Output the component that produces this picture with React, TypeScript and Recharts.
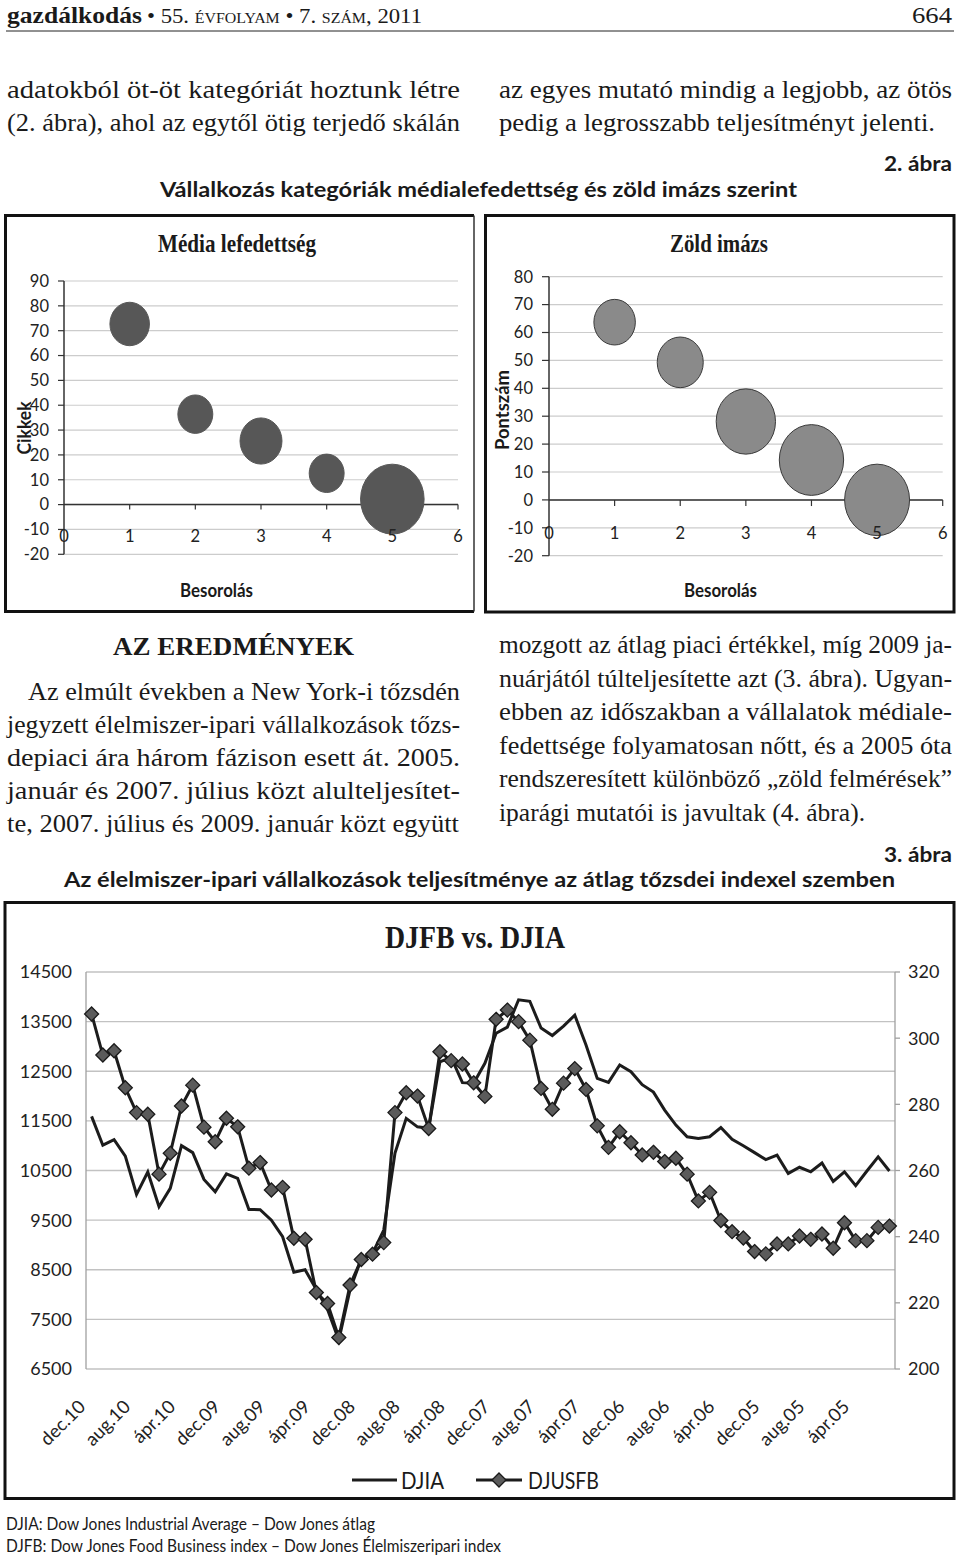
import React from 'react';
import {
  ScatterChart, Scatter, XAxis, YAxis, ZAxis, CartesianGrid, ReferenceLine,
  LineChart, Line, Legend,
} from 'recharts';

const SERIF = '"Liberation Serif", "DejaVu Serif", serif';
const SANS = 'Lato, "Open Sans", "DejaVu Sans", sans-serif';
const INK = '#1a1a1a';

// ---------- 2. ábra : bubble charts ----------
const ratingCategories = [1, 2, 3, 4, 5];
const ratingTicks = [0, 1, 2, 3, 4, 5, 6];
const mediaArticles = [72.7, 36.4, 25.6, 12.6, 2.2];
const mediaBubbleSize = [390, 305, 440, 305, 1010];
const mediaYTicks = [-20, -10, 0, 10, 20, 30, 40, 50, 60, 70, 80, 90];
const greenScore = [63.7, 49.3, 28.1, 14.3, 0];
const greenBubbleSize = [430, 530, 880, 1035, 1055];
const greenYTicks = [-20, -10, 0, 10, 20, 30, 40, 50, 60, 70, 80];

// ---------- 3. ábra : DJIA vs DJUSFB ----------
const months = [
  'dec.10', 'nov.10', 'okt.10', 'szept.10', 'aug.10', 'júl.10', 'jún.10', 'máj.10', 'ápr.10', 'márc.10', 'febr.10', 'jan.10',
  'dec.09', 'nov.09', 'okt.09', 'szept.09', 'aug.09', 'júl.09', 'jún.09', 'máj.09', 'ápr.09', 'márc.09', 'febr.09', 'jan.09',
  'dec.08', 'nov.08', 'okt.08', 'szept.08', 'aug.08', 'júl.08', 'jún.08', 'máj.08', 'ápr.08', 'márc.08', 'febr.08', 'jan.08',
  'dec.07', 'nov.07', 'okt.07', 'szept.07', 'aug.07', 'júl.07', 'jún.07', 'máj.07', 'ápr.07', 'márc.07', 'febr.07', 'jan.07',
  'dec.06', 'nov.06', 'okt.06', 'szept.06', 'aug.06', 'júl.06', 'jún.06', 'máj.06', 'ápr.06', 'márc.06', 'febr.06', 'jan.06',
  'dec.05', 'nov.05', 'okt.05', 'szept.05', 'aug.05', 'júl.05', 'jún.05', 'máj.05', 'ápr.05', 'márc.05', 'febr.05', 'jan.05',
];
const djia = [
  11590, 11010, 11120, 10790, 10020, 10470, 9770, 10140, 11000, 10860, 10320, 10070,
  10430, 10340, 9715, 9710, 9500, 9165, 8450, 8500, 8100, 7700, 7080, 8100,
  8720, 8830, 9300, 10850, 11550, 11380, 11350, 12690, 12780, 12270, 12260, 12660,
  13265, 13390, 13940, 13910, 13370, 13220, 13410, 13630, 13030, 12355, 12275, 12625,
  12490, 12230, 12080, 11718, 11415, 11180, 11145, 11180, 11365, 11127, 11000, 10860,
  10720, 10810, 10441, 10565, 10474, 10650, 10280, 10474, 10195, 10490, 10776, 10490,
];
const djusfb = [
  307.3, 294.9, 296.2, 285.0, 277.5, 277.0, 258.9, 265.2, 279.5, 285.8, 273.1, 268.7,
  275.8, 273.2, 260.7, 262.4, 254.1, 254.9, 239.5, 239.2, 223.1, 219.8, 209.5, 225.4,
  233.1, 234.7, 238.2, 277.5, 283.5, 282.5, 272.7, 295.9, 293.2, 292.2, 286.5, 282.4,
  305.7, 308.5, 305.0, 299.4, 284.8, 278.5, 286.4, 290.8, 284.5, 273.5, 267.0, 271.7,
  268.4, 264.7, 265.5, 262.7, 263.7, 258.9, 250.8, 253.4, 244.9, 241.5, 239.6, 235.5,
  234.8, 237.8, 237.8, 240.2, 239.2, 240.8, 236.5, 244.2, 238.8, 238.8, 242.8, 243.2,
];
const djiaTicks = [6500, 7500, 8500, 9500, 10500, 11500, 12500, 13500, 14500];
const djusfbTicks = [200, 220, 240, 260, 280, 300, 320];
const seriesNames = ['DJIA', 'DJUSFB'];

const mediaData = ratingCategories.map((x, i) => ({ x, y: mediaArticles[i], z: mediaBubbleSize[i] }));
const greenData = ratingCategories.map((x, i) => ({ x, y: greenScore[i], z: greenBubbleSize[i] }));
const lineData = months.map((m, i) => ({ m, djia: djia[i], djusfb: djusfb[i] }));

// ---------- page text helper ----------
type PTProps = {
  x: number; y: number; len?: number; size: number; bold?: boolean; family?: string;
  anchor?: 'start' | 'middle' | 'end'; rot?: number; sc?: boolean; children: string;
};
function PT({ x, y, len, size, bold, family = SERIF, anchor = 'start', rot, sc, children }: PTProps) {
  return (
    <text
      x={x}
      y={rot ? y + size * 0.34 : y}
      fontSize={size}
      fontFamily={family}
      fontWeight={bold ? 700 : 400}
      textAnchor={anchor}
      textLength={len}
      lengthAdjust={len ? 'spacingAndGlyphs' : undefined}
      transform={rot ? `rotate(${rot} ${x} ${y})` : undefined}
      fill={INK}
      style={sc ? { fontVariant: 'small-caps' } : undefined}
    >
      {children}
    </text>
  );
}

function PageText() {
  const B = 24.5; // body size
  return (
    <svg width={960} height={1560} style={{ position: 'absolute', left: 0, top: 0 }}>
      {/* header */}
      <PT x={7} y={23} len={135} size={24} bold>gazdálkodás</PT>
      <PT x={147} y={23} len={275} size={20} sc>• 55. évfolyam • 7. szám, 2011</PT>
      <PT x={912} y={23} len={40} size={23}>664</PT>
      <line x1={6} x2={954} y1={31} y2={31} stroke="#222" strokeWidth={1} />

      {/* top paragraph */}
      <PT x={7} y={98} len={453} size={B}>adatokból öt-öt kategóriát hoztunk létre</PT>
      <PT x={7} y={131} len={453} size={B}>(2. ábra), ahol az egytől ötig terjedő skálán</PT>
      <PT x={499} y={98} len={453} size={B}>az egyes mutató mindig a legjobb, az ötös</PT>
      <PT x={499} y={131} len={436} size={B}>pedig a legrosszabb teljesítményt jelenti.</PT>

      <PT x={884} y={171} len={68} size={20} bold family={SANS}>2. ábra</PT>
      <PT x={160} y={197} len={637} size={21} bold family={SANS}>Vállalkozás kategóriák médialefedettség és zöld imázs szerint</PT>

      {/* bubble chart frames */}
      <path d="M474,215.5 H5.5 V611.5 H474" fill="none" stroke="#111" strokeWidth={3} />
      <line x1={474} x2={474} y1={215.5} y2={611.5} stroke="#333" strokeWidth={1.5} />
      <rect x={485.5} y={215.5} width={468.5} height={396.5} fill="none" stroke="#111" strokeWidth={3} />

      {/* bubble chart titles */}
      <PT x={158} y={252} len={158} size={25} bold>Média lefedettség</PT>
      <PT x={670} y={252} len={98} size={25} bold>Zöld imázs</PT>
      <PT x={25} y={428} len={53} size={18} bold family={SANS} anchor="middle" rot={-90}>Cikkek</PT>
      <PT x={503} y={410} len={80} size={18} bold family={SANS} anchor="middle" rot={-90}>Pontszám</PT>
      <PT x={216.5} y={597} len={73} size={18} bold family={SANS} anchor="middle">Besorolás</PT>
      <PT x={720.5} y={597} len={73} size={18} bold family={SANS} anchor="middle">Besorolás</PT>

      {/* results section */}
      <PT x={113} y={655} len={241} size={25} bold>AZ EREDMÉNYEK</PT>
      <PT x={28} y={700} len={432} size={B}>Az elmúlt években a New York-i tőzsdén</PT>
      <PT x={7} y={733} len={453} size={B}>jegyzett élelmiszer-ipari vállalkozások tőzs-</PT>
      <PT x={7} y={766} len={453} size={B}>depiaci ára három fázison esett át. 2005.</PT>
      <PT x={7} y={799} len={453} size={B}>január és 2007. július közt alulteljesítet-</PT>
      <PT x={7} y={832} len={452} size={B}>te, 2007. július és 2009. január közt együtt</PT>

      <PT x={499} y={653} len={453} size={B}>mozgott az átlag piaci értékkel, míg 2009 ja-</PT>
      <PT x={499} y={687} len={453} size={B}>nuárjától túlteljesítette azt (3. ábra). Ugyan-</PT>
      <PT x={499} y={720} len={453} size={B}>ebben az időszakban a vállalatok médiale-</PT>
      <PT x={499} y={754} len={453} size={B}>fedettsége folyamatosan nőtt, és a 2005 óta</PT>
      <PT x={499} y={787} len={453} size={B}>rendszeresített különböző „zöld felmérések”</PT>
      <PT x={499} y={821} len={366} size={B}>iparági mutatói is javultak (4. ábra).</PT>

      <PT x={884} y={862} len={68} size={20} bold family={SANS}>3. ábra</PT>
      <PT x={64} y={887} len={831} size={21} bold family={SANS}>Az élelmiszer-ipari vállalkozások teljesítménye az átlag tőzsdei indexel szemben</PT>

      {/* line chart frame + title */}
      <rect x={5} y={902.5} width={949} height={596} fill="none" stroke="#111" strokeWidth={3} />
      <PT x={385} y={948} len={180} size={31} bold>DJFB vs. DJIA</PT>

      {/* footnotes */}
      <PT x={6} y={1530} len={369} size={17} family={SANS}>DJIA: Dow Jones Industrial Average – Dow Jones átlag</PT>
      <PT x={6} y={1552} len={495} size={17} family={SANS}>DJFB: Dow Jones Food Business index – Dow Jones Élelmiszeripari index</PT>
    </svg>
  );
}

// ---------- bubble panel ----------
const makeBubble = (fill: string, stroke: string) => (p: any) => {
  let r = 20;
  if (typeof p.width === 'number' && p.width > 0) r = p.width / 2;
  else if (typeof p.size === 'number') r = Math.sqrt(p.size / Math.PI);
  return <ellipse cx={p.cx} cy={p.cy} rx={r} ry={r * 1.1} fill={fill} stroke={stroke} strokeWidth={1} />;
};

type BubbleProps = {
  left: number; top: number; width: number; height: number;
  margin: { top: number; right: number; bottom: number; left: number };
  yAxisWidth: number; yTicks: number[]; data: { x: number; y: number; z: number }[];
  fill: string; stroke: string; labelOff: number; tickLen: number; tickMargin: number; xTickUnits: number;
};
function BubblePanel(props: BubbleProps) {
  const { left, top, width, height, margin, yAxisWidth, yTicks, data, fill, stroke, labelOff, tickLen, tickMargin, xTickUnits } = props;
  const yDomain = [yTicks[0], yTicks[yTicks.length - 1]];
  return (
    <div style={{ position: 'absolute', left, top }}>
      <ScatterChart width={width} height={height} margin={margin}>
        <CartesianGrid vertical={false} stroke="#cccccc" strokeWidth={1.2} />
        <XAxis
          type="number" dataKey="x" domain={[0, 6]} ticks={ratingTicks} interval={0}
          axisLine={false} tickLine={false} tickSize={0} tickMargin={0} height={30}
          tick={(t: any) => (
            <text x={t.x} y={t.y + labelOff} textAnchor="middle" fontFamily={SANS} fontSize={16.5} fill="#222">
              {t.payload.value}
            </text>
          )}
        />
        <YAxis
          type="number" dataKey="y" domain={yDomain} ticks={yTicks} interval={0} width={yAxisWidth}
          axisLine={{ stroke: '#333', strokeWidth: 1.5 }} tickLine={{ stroke: '#333', strokeWidth: 1.2 }}
          tickSize={tickLen} tickMargin={tickMargin}
          tick={{ fontFamily: SANS, fontSize: 16.5, fill: '#222' }}
        />
        <ZAxis type="number" dataKey="z" domain={[0, 1100]} range={[0, 1100 * Math.PI]} />
        <ReferenceLine y={0} stroke="#333" strokeWidth={1.5} />
        {ratingTicks.slice(1).map((t) => (
          <ReferenceLine key={t} segment={[{ x: t, y: 0 }, { x: t, y: -xTickUnits }]} stroke="#333" strokeWidth={1.2} />
        ))}
        <Scatter data={data} isAnimationActive={false} shape={makeBubble(fill, stroke)} />
      </ScatterChart>
    </div>
  );
}

// ---------- line chart ----------
const Diamond = (p: any) => {
  const { cx, cy, index } = p;
  if (cx == null || cy == null) return <g key={`d${index}`} />;
  const h = 7;
  return (
    <path
      key={`d${index}`}
      d={`M${cx},${cy - h} L${cx + h},${cy} L${cx},${cy + h} L${cx - h},${cy} Z`}
      fill="#5b5b5b" stroke="#1a1a1a" strokeWidth={1.3}
    />
  );
};

const LegendSvg = () => (
  <svg width={950} height={36}>
    <line x1={347} x2={392} y1={19} y2={19} stroke="#1c1c1c" strokeWidth={3} />
    <text x={396} y={28} fontFamily={SANS} fontSize={24} fill={INK} textLength={43} lengthAdjust="spacingAndGlyphs">{seriesNames[0]}</text>
    <line x1={471} x2={517} y1={19} y2={19} stroke="#1c1c1c" strokeWidth={3} />
    <path d="M494,12 L501,19 L494,26 L487,19 Z" fill="#5b5b5b" stroke="#1a1a1a" strokeWidth={1.3} />
    <text x={523} y={28} fontFamily={SANS} fontSize={24} fill={INK} textLength={71} lengthAdjust="spacingAndGlyphs">{seriesNames[1]}</text>
  </svg>
);

function IndexChart() {
  return (
    <div style={{ position: 'absolute', left: 5, top: 901 }}>
      <LineChart width={950} height={599} data={lineData} margin={{ top: 71, right: 0, bottom: 41, left: 0 }}>
        <CartesianGrid yAxisId="left" vertical={false} stroke="#c2c2c2" strokeWidth={1.3} />
        <XAxis
          dataKey="m" interval={3} padding={{ left: 5.6, right: 5.6 }} height={90}
          axisLine={false} tickLine={false} tickSize={0} tickMargin={0}
          tick={(t: any) => {
            const ax = t.x - 5;
            const ay = t.y + 39;
            return (
              <text x={ax} y={ay} transform={`rotate(-45 ${ax} ${ay})`} textAnchor="end" fontFamily={SANS} fontSize={18.5} fill="#222">
                {t.payload.value}
              </text>
            );
          }}
        />
        <YAxis
          yAxisId="left" orientation="left" domain={[6500, 14500]} ticks={djiaTicks} interval={0} width={81}
          axisLine={{ stroke: '#a0a0a0', strokeWidth: 1.3 }} tickLine={false} tickSize={6} tickMargin={8}
          tick={{ fontFamily: SANS, fontSize: 18, fill: '#222' }}
        />
        <YAxis
          yAxisId="right" orientation="right" domain={[200, 320]} ticks={djusfbTicks} interval={0} width={60}
          axisLine={{ stroke: '#a0a0a0', strokeWidth: 1.3 }} tickLine={{ stroke: '#a0a0a0', strokeWidth: 1.3 }}
          tickSize={5} tickMargin={8}
          tick={{ fontFamily: SANS, fontSize: 18, fill: '#222' }}
        />
        <Legend
          verticalAlign="middle" layout="horizontal" align="center"
          wrapperStyle={{ top: 560, left: 0, width: 950, height: 36 }}
          content={() => <LegendSvg />}
        />
        <Line yAxisId="left" dataKey="djia" name={seriesNames[0]} stroke="#1c1c1c" strokeWidth={3} dot={false} isAnimationActive={false} />
        <Line yAxisId="right" dataKey="djusfb" name={seriesNames[1]} stroke="#1c1c1c" strokeWidth={3} dot={Diamond} isAnimationActive={false} />
      </LineChart>
    </div>
  );
}

export default function App() {
  return (
    <div style={{ position: 'absolute', left: 0, top: 0, width: 960, height: 1560, background: '#fff', overflow: 'hidden' }}>
      <PageText />
      <BubblePanel
        left={5} top={214} width={470} height={398}
        margin={{ top: 67, right: 17, bottom: 27.7, left: 0 }}
        yAxisWidth={59} yTicks={mediaYTicks} data={mediaData}
        fill="#575757" stroke="#575757" labelOff={-12} tickLen={6} tickMargin={9} xTickUnits={2}
      />
      <BubblePanel
        left={481} top={214} width={473} height={398}
        margin={{ top: 62.7, right: 11.3, bottom: 26.3, left: 0 }}
        yAxisWidth={68} yTicks={greenYTicks} data={greenData}
        fill="#8a8a8a" stroke="#3a3a3a" labelOff={-17} tickLen={7} tickMargin={9} xTickUnits={2.2}
      />
      <IndexChart />
    </div>
  );
}
